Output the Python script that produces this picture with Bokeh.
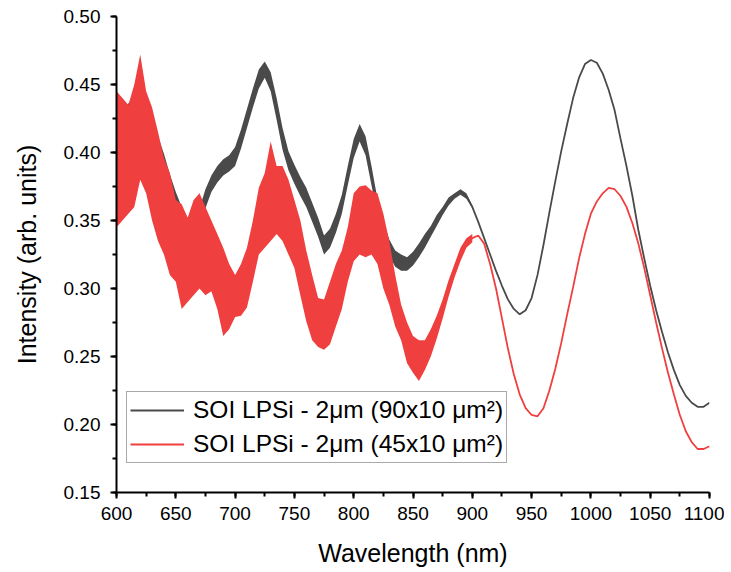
from bokeh.plotting import figure
from bokeh.models import (SingleIntervalTicker, NumeralTickFormatter, Range1d,
                          Legend, LegendItem)
from bokeh.embed import file_html
from bokeh.resources import INLINE

# ---------------- data ----------------
wl = [600, 605, 610, 615, 620, 625, 630, 635, 640, 645, 650, 655, 660, 665, 670,
      675, 680, 685, 690, 695, 700, 705, 710, 715, 720, 725, 730, 735, 740, 745,
      750, 755, 760, 765, 770, 775, 780, 785, 790, 795, 800, 805, 810, 815, 820,
      825, 830, 835, 840, 845, 850, 855, 860, 865, 870, 875, 880, 885, 890, 895,
      900, 905, 910, 915, 920, 925, 930, 935, 940, 945, 950, 955, 960, 965, 970,
      975, 980, 985, 990, 995, 1000, 1005, 1010, 1015, 1020, 1025, 1030, 1035,
      1040, 1045, 1050, 1055, 1060, 1065, 1070, 1075, 1080, 1085, 1090, 1095, 1100]

black_90x10 = [0.418, 0.425, 0.428, 0.432, 0.434, 0.430, 0.418, 0.405, 0.392, 0.377,
               0.364, 0.353, 0.345, 0.340, 0.352, 0.366, 0.377, 0.384, 0.389, 0.392,
               0.397, 0.410, 0.425, 0.440, 0.454, 0.462, 0.452, 0.432, 0.410, 0.394,
               0.384, 0.375, 0.367, 0.356, 0.345, 0.332, 0.337, 0.348, 0.362, 0.383,
               0.403, 0.415, 0.405, 0.383, 0.360, 0.343, 0.330, 0.322, 0.319, 0.318,
               0.322, 0.328, 0.335, 0.342, 0.350, 0.357, 0.364, 0.368, 0.371, 0.368,
               0.360, 0.349, 0.337, 0.325, 0.313, 0.302, 0.292, 0.285, 0.281, 0.284,
               0.293, 0.310, 0.332, 0.356, 0.379, 0.401, 0.421, 0.440, 0.455, 0.465,
               0.468, 0.466, 0.458, 0.446, 0.431, 0.410, 0.390, 0.368, 0.343, 0.322,
               0.302, 0.284, 0.268, 0.253, 0.240, 0.229, 0.221, 0.216, 0.213, 0.213,
               0.216]

red_45x10 = [0.385, 0.390, 0.395, 0.405, 0.410, 0.405, 0.390, 0.375, 0.360, 0.348,
             0.335, 0.322, 0.318, 0.325, 0.333, 0.330, 0.325, 0.315, 0.305, 0.298,
             0.295, 0.298, 0.308, 0.325, 0.345, 0.355, 0.360, 0.365, 0.363, 0.355,
             0.340, 0.322, 0.303, 0.285, 0.275, 0.274, 0.283, 0.294, 0.307, 0.325,
             0.342, 0.350, 0.352, 0.350, 0.343, 0.328, 0.310, 0.292, 0.276, 0.262,
             0.253, 0.249, 0.251, 0.260, 0.271, 0.285, 0.300, 0.313, 0.325, 0.333,
             0.337, 0.339, 0.333, 0.318, 0.300, 0.278, 0.256, 0.237, 0.222, 0.212,
             0.207, 0.206, 0.212, 0.225, 0.241, 0.260, 0.281, 0.301, 0.322, 0.340,
             0.355, 0.364, 0.370, 0.374, 0.373, 0.368, 0.360, 0.348, 0.333, 0.315,
             0.295, 0.275, 0.256, 0.238, 0.222, 0.207, 0.195, 0.187, 0.182, 0.182,
             0.184]

# noise envelopes of the noisy part (600-900 nm)
wl_noisy = wl[:61]
black_low = [0.405, 0.415, 0.420, 0.425, 0.426, 0.422, 0.410, 0.398, 0.385, 0.370,
             0.357, 0.347, 0.338, 0.333, 0.345, 0.359, 0.371, 0.378, 0.383, 0.386,
             0.390, 0.403, 0.418, 0.433, 0.447, 0.455, 0.445, 0.424, 0.402, 0.387,
             0.377, 0.368, 0.360, 0.349, 0.338, 0.325, 0.330, 0.341, 0.355, 0.376,
             0.396, 0.408, 0.398, 0.376, 0.354, 0.337, 0.324, 0.316, 0.313, 0.313,
             0.317, 0.323, 0.330, 0.338, 0.346, 0.354, 0.361, 0.366, 0.369, 0.366,
             0.359]
black_high = [0.430, 0.432, 0.436, 0.440, 0.441, 0.437, 0.425, 0.412, 0.399, 0.384,
              0.371, 0.360, 0.352, 0.348, 0.359, 0.373, 0.383, 0.390, 0.395, 0.398,
              0.404, 0.417, 0.432, 0.447, 0.461, 0.467, 0.459, 0.440, 0.418, 0.401,
              0.391, 0.382, 0.374, 0.363, 0.352, 0.339, 0.344, 0.355, 0.369, 0.390,
              0.410, 0.421, 0.412, 0.390, 0.366, 0.349, 0.336, 0.328, 0.325, 0.323,
              0.327, 0.333, 0.340, 0.346, 0.354, 0.360, 0.367, 0.370, 0.373, 0.370,
              0.361]
red_low = [0.345, 0.350, 0.355, 0.360, 0.380, 0.370, 0.350, 0.335, 0.325, 0.310,
           0.305, 0.285, 0.290, 0.295, 0.300, 0.295, 0.298, 0.285, 0.265, 0.270,
           0.279, 0.280, 0.286, 0.305, 0.325, 0.330, 0.335, 0.340, 0.335, 0.325,
           0.315, 0.295, 0.276, 0.262, 0.257, 0.255, 0.259, 0.272, 0.285, 0.305,
           0.320, 0.325, 0.323, 0.325, 0.318, 0.300, 0.288, 0.272, 0.262, 0.245,
           0.238, 0.232, 0.240, 0.250, 0.263, 0.278, 0.294, 0.308, 0.320, 0.330,
           0.334]
red_high = [0.445, 0.440, 0.435, 0.450, 0.472, 0.445, 0.433, 0.415, 0.396, 0.385,
            0.365, 0.362, 0.352, 0.365, 0.370, 0.360, 0.350, 0.340, 0.330, 0.318,
            0.310, 0.318, 0.330, 0.350, 0.374, 0.385, 0.408, 0.390, 0.390, 0.380,
            0.365, 0.350, 0.328, 0.310, 0.293, 0.292, 0.305, 0.318, 0.328, 0.345,
            0.370, 0.375, 0.376, 0.372, 0.370, 0.355, 0.335, 0.310, 0.288, 0.275,
            0.265, 0.262, 0.262, 0.270, 0.280, 0.292, 0.306, 0.318, 0.330, 0.337,
            0.340]

x_ticks_interval = 50
y_ticks_interval = 0.05
label_90 = "SOI LPSi - 2μm (90x10 μm²)"
label_45 = "SOI LPSi - 2μm (45x10 μm²)"

BLACK = "#4a4a4a"
RED = "#ef3f3f"
FONT = "Liberation Sans"

# ---------------- figure ----------------
p = figure(width=724, height=570, output_backend="svg", toolbar_location=None,
           x_range=Range1d(600, 1100), y_range=Range1d(0.15, 0.50),
           min_border_left=116, min_border_right=15, min_border_top=16,
           min_border_bottom=78)
p.outline_line_color = None
p.grid.visible = False
p.background_fill_color = "white"
p.border_fill_color = "white"

p.varea(x=wl_noisy, y1=black_low, y2=black_high, fill_color=BLACK)
r_black = p.line(wl, black_90x10, line_color=BLACK, line_width=1.8)
p.varea(x=wl_noisy, y1=red_low, y2=red_high, fill_color=RED)
r_red = p.line(wl, red_45x10, line_color=RED, line_width=1.8)

for ax, interval in ((p.xaxis[0], x_ticks_interval), (p.yaxis[0], y_ticks_interval)):
    ax.ticker = SingleIntervalTicker(interval=interval, num_minor_ticks=2)
    ax.axis_line_width = 2
    ax.axis_line_color = "black"
    ax.major_tick_line_width = 2
    ax.minor_tick_line_width = 2
    ax.major_tick_in = 0
    ax.major_tick_out = 6
    ax.minor_tick_in = 0
    ax.minor_tick_out = 4
    ax.major_label_text_font = FONT
    ax.major_label_text_font_size = "19px"
    ax.major_label_text_color = "black"
    ax.axis_label_text_font = FONT
    ax.axis_label_text_font_size = "25px"
    ax.axis_label_text_font_style = "normal"
    ax.axis_label_text_color = "black"

p.yaxis[0].formatter = NumeralTickFormatter(format="0.00")
p.yaxis[0].axis_label = "Intensity (arb. units)"
p.xaxis[0].axis_label = "Wavelength (nm)"
p.yaxis[0].major_label_standoff = 10
p.yaxis[0].axis_label_standoff = 20
p.xaxis[0].major_label_standoff = 8
p.xaxis[0].axis_label_standoff = 16

legend = Legend(items=[LegendItem(label=label_90, renderers=[r_black]),
                       LegendItem(label=label_45, renderers=[r_red])],
                location=(10, 29))
legend.label_text_font = FONT
legend.label_text_font_size = "24.5px"
legend.label_text_color = "black"
legend.glyph_width = 54
legend.glyph_height = 30
legend.label_height = 30
legend.label_standoff = 9
legend.spacing = 4
legend.padding = 3
legend.margin = 0
legend.border_line_color = "#555555"
legend.border_line_width = 1
legend.background_fill_alpha = 1
p.add_layout(legend, "center")

open("out.html", "w").write(file_html(p, INLINE))
